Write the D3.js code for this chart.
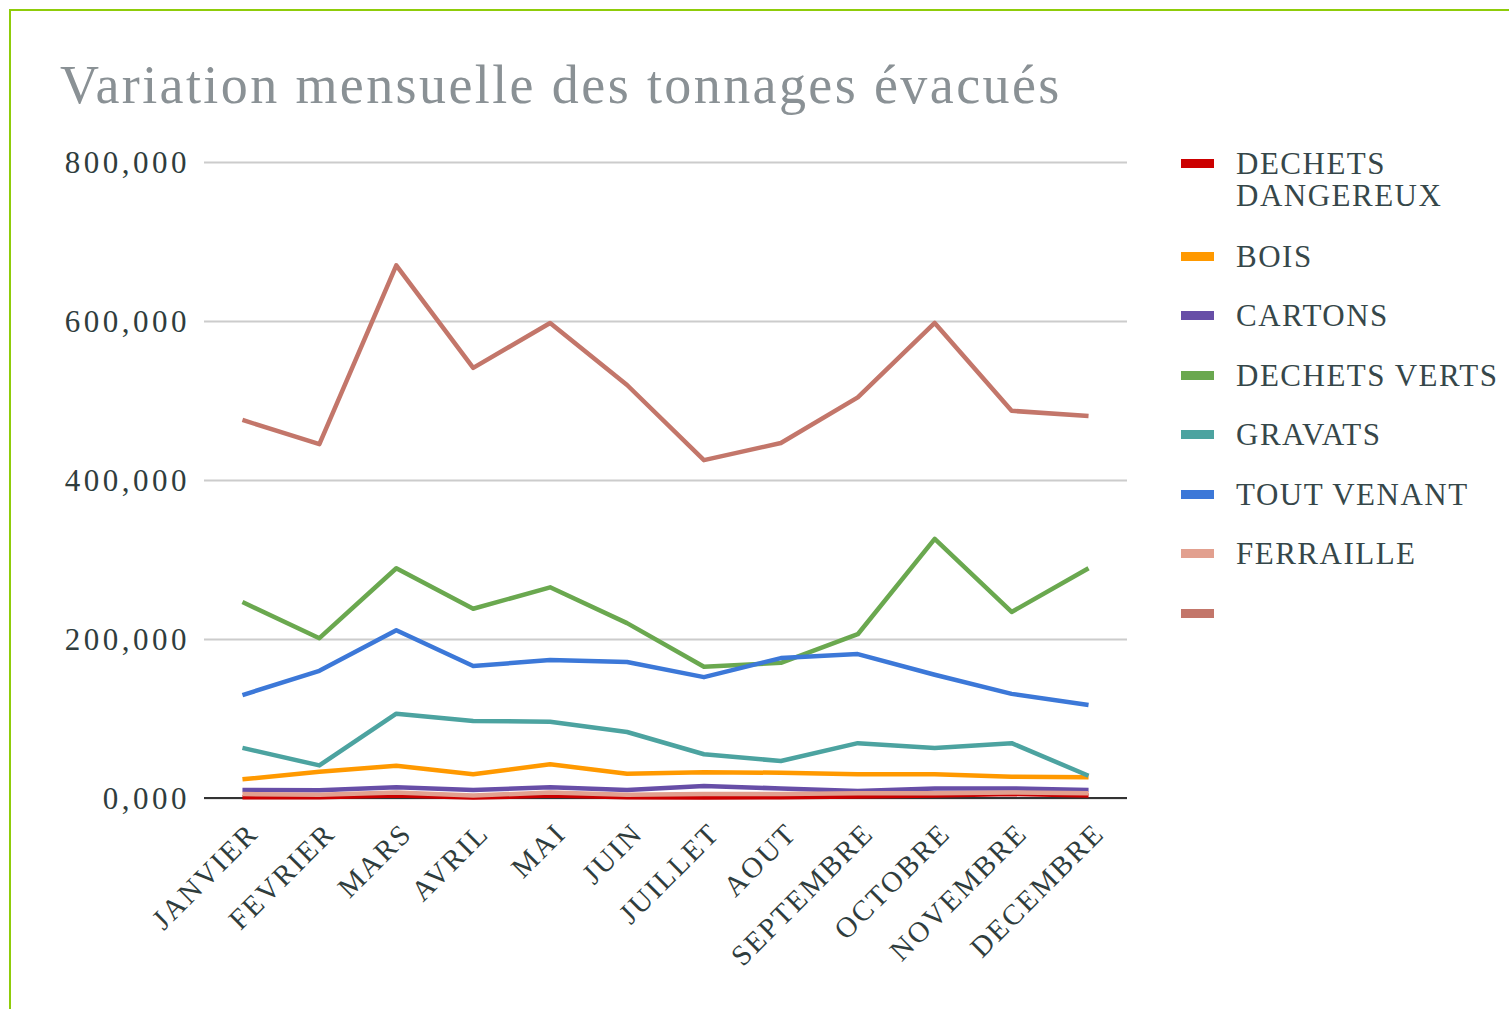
<!DOCTYPE html>
<html>
<head>
<meta charset="utf-8">
<script src="https://cdn.jsdelivr.net/npm/d3@7"></script>
<style>
  body { margin: 0; background: #fff; }
  text { font-family: "Liberation Serif", "DejaVu Serif", serif; }
</style>
</head>
<body>
<svg id="stage" width="1509" height="1009"></svg>
<script>
var svg = d3.select("#stage");

// data
var months = ["JANVIER", "FEVRIER", "MARS", "AVRIL", "MAI", "JUIN", "JUILLET", "AOUT", "SEPTEMBRE", "OCTOBRE", "NOVEMBRE", "DECEMBRE"];
var seriesNames = ["DECHETS DANGEREUX", "BOIS", "CARTONS", "DECHETS VERTS", "GRAVATS", "TOUT VENANT", "FERRAILLE", ""];
var yTicks = [0, 200000, 400000, 600000, 800000];

var dechetsDangereux = [1000, 1000, 3000, 500, 3000, 1000, 500, 1000, 2000, 3000, 5000, 3000];
var bois = [23500, 33000, 40600, 29800, 42400, 30600, 32300, 31800, 29800, 29800, 26800, 26000];
var cartons = [10000, 9600, 13400, 10000, 13400, 10000, 15000, 12000, 8800, 12000, 12000, 10000];
var dechetsVerts = [246500, 201000, 289000, 238000, 265000, 220000, 165000, 170000, 206000, 326000, 234000, 289000];
var gravats = [63000, 41000, 106000, 97000, 96000, 83000, 55000, 46500, 69000, 63000, 69000, 28000];
var toutVenant = [129500, 160000, 211000, 166000, 173500, 171000, 152000, 176000, 181000, 155000, 131000, 117000];
var ferraille = [5000, 4000, 7000, 3000, 7000, 4000, 5000, 5000, 6000, 6000, 7000, 6000];
var total = [475500, 445000, 670000, 541000, 597500, 519500, 425000, 446500, 504000, 597500, 487000, 480500];

var allSeries = [dechetsDangereux, bois, cartons, dechetsVerts, gravats, toutVenant, ferraille, total];
var colors = ["#cc0000", "#ff9900", "#674ea7", "#6aa84f", "#4ca3a0", "#3c78d8", "#e2a08f", "#c3766a"];

// layout
var plot = {left: 204, right: 1127, top: 162, bottom: 798};

var x = d3.scalePoint()
  .domain(months)
  .range([plot.left, plot.right])
  .padding(0.5);

var y = d3.scaleLinear()
  .domain([0, 800000])
  .range([plot.bottom, plot.top]);

// frame
svg.append("path")
  .attr("d", "M10,1015 V10 H1515")
  .attr("fill", "none")
  .attr("stroke", "#8fcc0a")
  .attr("stroke-width", 2);

// title
svg.append("text")
  .attr("x", 60)
  .attr("y", 103)
  .attr("fill", "#8a9195")
  .style("font-size", "54px")
  .style("letter-spacing", "2.4px")
  .text("Variation mensuelle des tonnages évacués");

// gridlines + y labels
var yAxis = d3.axisLeft(y)
  .tickValues(yTicks)
  .tickSize(-(plot.right - plot.left))
  .tickPadding(14)
  .tickFormat(function(d){ return d3.format(",.3f")(d / 1000).replace(".", ","); });

var gy = svg.append("g")
  .attr("transform", "translate(" + plot.left + ",0)")
  .call(yAxis);

gy.select(".domain").remove();
gy.selectAll(".tick line")
  .attr("stroke", "#cccccc")
  .attr("stroke-width", 2);
gy.selectAll(".tick text")
  .attr("fill", "#2f3d3d")
  .style("font-size", "31px")
  .style("letter-spacing", "3.5px")
  .attr("dy", "0.35em");

// x axis
var xAxis = d3.axisBottom(x).tickSize(0).tickPadding(0);

var gx = svg.append("g")
  .attr("transform", "translate(0," + plot.bottom + ")")
  .call(xAxis);

gx.select(".domain")
  .attr("d", "M" + plot.left + ",0H" + plot.right)
  .attr("stroke", "#333")
  .attr("stroke-width", 2);

gx.selectAll(".tick text")
  .attr("fill", "#2f3d3d")
  .style("font-size", "29px")
  .style("letter-spacing", "2.2px")
  .attr("text-anchor", "end")
  .attr("y", 0)
  .attr("dy", 0)
  .attr("transform", "translate(17,37) rotate(-45)");

// lines
var line = d3.line()
  .x(function(d, i){ return x(months[i]); })
  .y(function(d){ return y(d); });

svg.append("g")
  .selectAll("path")
  .data(allSeries)
  .enter()
  .append("path")
    .attr("d", line)
    .attr("fill", "none")
    .attr("stroke", function(d, i){ return colors[i]; })
    .attr("stroke-width", 4.5)
    .attr("stroke-linejoin", "round");

// legend
var legendY = [163, 256, 315, 375, 434, 494, 553, 613];

var legend = svg.append("g")
  .selectAll("g")
  .data(seriesNames)
  .enter()
  .append("g")
    .attr("transform", function(d, i){ return "translate(1181," + legendY[i] + ")"; });

legend.append("rect")
  .attr("x", 0)
  .attr("y", -4)
  .attr("width", 33)
  .attr("height", 9)
  .attr("fill", function(d, i){ return colors[i]; });

legend.each(function(d){
  var g = d3.select(this);
  var words = d === "DECHETS DANGEREUX" ? ["DECHETS", "DANGEREUX"] : [d];
  for (var i = 0; i < words.length; i++) {
    g.append("text")
      .attr("x", 55)
      .attr("y", 11 + i * 32)
      .attr("fill", "#36474a")
      .style("font-size", "31px")
      .style("letter-spacing", "1.5px")
      .text(words[i]);
  }
});
</script>
</body>
</html>
